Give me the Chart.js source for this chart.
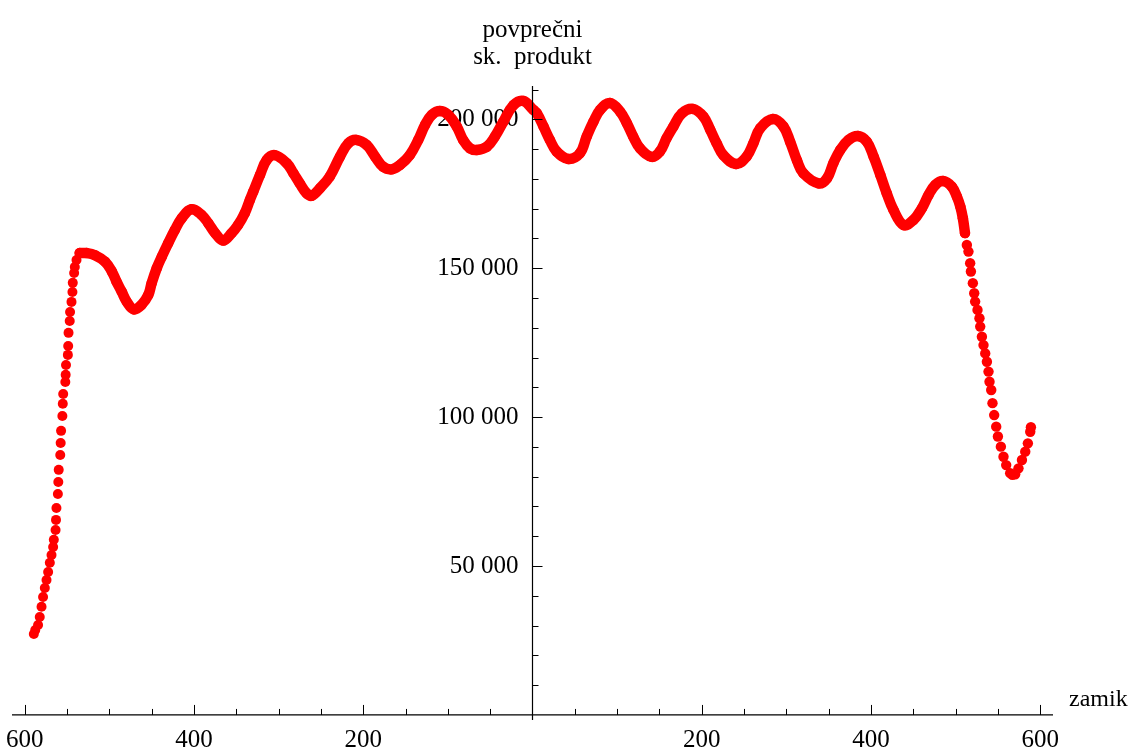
<!DOCTYPE html>
<html>
<head>
<meta charset="utf-8">
<script src="https://cdn.jsdelivr.net/npm/chart.js@4/dist/chart.umd.min.js"></script>
<style>
  html, body { margin: 0; padding: 0; background: #fff; }
  #wrap { width: 1131px; height: 753px; }
</style>
</head>
<body>
<div id="wrap"><canvas id="plot" width="1131" height="753"></canvas></div>
<script>
// zamik (lag) vs povprečni sk. produkt

// steep rise on the far left (separate dots)
const riseX = [-589.2, -587.5, -584.2, -582.2, -580.1, -578.3, -576.2, -574.2, -572.3, -570.3,
  -568.3, -566.4, -565.6, -563.5, -563.0, -562.5, -560.8, -560.3, -559.8, -558.0,
  -557.5, -557.0, -555.5, -555.0, -554.5, -552.0, -551.6, -551.2, -549.0, -548.6,
  -548.2, -546.8, -546.4, -544.7, -543.6, -543.2, -541.6, -540.8, -538.8];
const riseY = [27200, 28500, 30200, 32900, 36300, 39600, 42600, 45300, 48000, 51100,
  53700, 56400, 58800, 62100, 65500, 69500, 74200, 78200, 82300, 87300,
  91300, 95400, 100400, 104500, 107800, 111800, 114200, 117500, 120900, 123900,
  128300, 132300, 135300, 138700, 142000, 145100, 148400, 150400, 152800];

// wavy middle part
const waveX = [-535, -527, -517, -505, -497, -491.5, -485.5, -479.5, -471, -462,
  -454, -450, -444, -438, -430.5, -422.5, -414.5, -403, -391, -383,
  -375, -365.5, -355.5, -348, -340, -334, -330, -322, -314, -304.5,
  -290.5, -282.5, -275, -267, -261, -251, -239.5, -227.5, -217.5, -208,
  -196, -186, -176.5, -166.5, -156.5, -145, -135, -127, -119, -109.5,
  -99.5, -89.5, -82, -74, -66, -54, -44.5, -34.5, -22.5, -11,
  1, 5, 13, 20.5, 28.5, 42.5, 56, 64, 72, 80,
  91.5, 103.5, 111.5, 119, 127, 141, 150.5, 158.5, 166.5, 176.5,
  189.5, 202, 210, 217.5, 225.5, 240.5, 253, 261, 269, 284,
  296.5, 304.5, 312.5, 320, 338, 348, 355.5, 363.5, 373.5, 384.5,
  395, 403, 411, 418.5, 426.5, 438.5, 450, 460, 468, 476,
  485, 495.5, 501.5, 505.5, 508.5, 511];
const waveY = [155100, 155100, 154400, 152200, 148900, 145500, 142200, 138800, 136200, 137700,
  141000, 145000, 150000, 153900, 158400, 162900, 166800, 169800, 167900, 165100,
  161800, 159300, 161800, 164500, 168500, 172900, 175700, 181300, 186400, 188000,
  185300, 181900, 178500, 175200, 174300, 176900, 180800, 187500, 192000, 193100,
  191400, 187500, 184100, 183200, 184700, 188000, 193100, 198100, 201500, 202800,
  201500, 197600, 193100, 190300, 189700, 190800, 194200, 199200, 204800, 206200,
  203200, 202100, 197600, 193100, 189200, 186700, 188600, 194200, 199200, 203200,
  205500, 202600, 198700, 194200, 190300, 187400, 189200, 193700, 197600, 202000,
  203500, 200900, 196500, 192000, 188000, 185000, 187500, 192000, 197000, 200100,
  197600, 192400, 186200, 181900, 178500, 180200, 185300, 189700, 193100, 194400,
  192500, 187500, 181300, 175200, 169600, 164500, 166200, 170100, 174600, 178000,
  179300, 177400, 174000, 170700, 166800, 161800];

// drop on the right and the small upturn at the end
const dropX = [513.2, 515.1, 517.1, 518.0, 520.3, 521.9, 523.0, 525.8, 528.1, 529.0,
  531.0, 532.9, 534.9, 536.9, 538.8, 540.0, 542.0, 543.5, 545.5, 547.9,
  549.9, 553.4, 556.5, 559.7, 564.4, 567.0, 570.3, 574.2, 578.3, 582.2,
  585.3, 588.1, 588.9];
const dropY = [157800, 155600, 151700, 148900, 145000, 141600, 138800, 136000, 133200, 130400,
  127000, 124200, 121400, 118600, 115300, 111900, 109100, 104700, 100700, 96800,
  93500, 90100, 86700, 83900, 81200, 80600, 80800, 82800, 85600, 88400,
  91200, 95100, 96600];

const xTicks = [-600, -400, -200, 200, 400, 600];
const yTicks = [50000, 100000, 150000, 200000];
const xMinorStep = 50;
const yMinorStep = 10000;

const RED = '#ff0000';
const FONT = '"Liberation Serif", "Times New Roman", serif';

function pts(xs, ys) {
  return xs.map((x, i) => ({ x: x, y: ys[i] }));
}

const axesPlugin = {
  id: 'axesPlugin',
  afterDraw(chart) {
    const ctx = chart.ctx;
    const xs = chart.scales.x;
    const ys = chart.scales.y;
    const area = chart.chartArea;
    const x0 = xs.getPixelForValue(0);
    const y0 = ys.getPixelForValue(0);

    ctx.save();
    ctx.strokeStyle = '#000';
    ctx.lineWidth = 1.2;
    ctx.beginPath();
    ctx.moveTo(area.left, y0);
    ctx.lineTo(area.right, y0);
    ctx.moveTo(x0, area.top);
    ctx.lineTo(x0, area.bottom);
    ctx.stroke();

    // ticks point inward, like the original
    ctx.lineWidth = 1;
    ctx.beginPath();
    for (let v = -600; v <= 600; v += xMinorStep) {
      if (v === 0) continue;
      const px = Math.round(xs.getPixelForValue(v)) + 0.5;
      const len = xTicks.includes(v) ? 10 : 6;
      ctx.moveTo(px, y0);
      ctx.lineTo(px, y0 - len);
    }
    for (let v = yMinorStep; v <= ys.max; v += yMinorStep) {
      const py = Math.round(ys.getPixelForValue(v)) + 0.5;
      const len = yTicks.includes(v) ? 10 : 6;
      ctx.moveTo(x0, py);
      ctx.lineTo(x0 + len, py);
    }
    ctx.stroke();

    ctx.fillStyle = '#000';
    ctx.font = '25px ' + FONT;
    ctx.textAlign = 'center';
    ctx.textBaseline = 'alphabetic';
    ctx.fillText('povprečni', x0, 37);
    ctx.fillText('sk.  produkt', x0, 64);
    ctx.font = '24px ' + FONT;
    ctx.textAlign = 'left';
    ctx.fillText('zamik', 1069, 706);
    ctx.restore();
  }
};

new Chart(document.getElementById('plot'), {
  type: 'scatter',
  data: {
    datasets: [
      {
        data: pts(waveX, waveY),
        showLine: true,
        borderColor: RED,
        borderWidth: 10.5,
        borderCapStyle: 'round',
        borderJoinStyle: 'round',
        tension: 0.4,
        pointRadius: 5.2,
        pointBorderWidth: 0,
        pointBackgroundColor: RED
      },
      {
        data: pts(riseX, riseY),
        showLine: false,
        pointRadius: 5,
        pointBorderWidth: 0,
        pointBackgroundColor: RED
      },
      {
        data: pts(dropX, dropY),
        showLine: false,
        pointRadius: 5.2,
        pointBorderWidth: 0,
        pointBackgroundColor: RED
      }
    ]
  },
  options: {
    responsive: false,
    animation: false,
    devicePixelRatio: 1,
    layout: { padding: { left: 12, right: 78, top: 86, bottom: 33 } },
    plugins: { legend: { display: false }, tooltip: { enabled: false } },
    scales: {
      x: {
        type: 'linear',
        position: { y: 0 },
        min: -615,
        max: 615,
        z: 1,
        grid: { display: false },
        border: { display: false },
        afterBuildTicks: s => { s.ticks = xTicks.map(v => ({ value: v })); },
        ticks: {
          maxRotation: 0,
          autoSkip: false,
          padding: 2,
          color: '#000',
          font: { family: FONT, size: 25 },
          callback: v => String(Math.abs(v))
        }
      },
      y: {
        type: 'linear',
        position: 'center',
        min: -1700,
        max: 211200,
        z: 1,
        grid: { display: false },
        border: { display: false },
        afterBuildTicks: s => { s.ticks = yTicks.map(v => ({ value: v })); },
        ticks: {
          autoSkip: false,
          padding: 6,
          color: '#000',
          font: { family: FONT, size: 25 },
          callback: v => String(v).replace(/\B(?=(\d{3})+(?!\d))/g, ' ')
        }
      }
    }
  },
  plugins: [axesPlugin]
});
</script>
</body>
</html>
